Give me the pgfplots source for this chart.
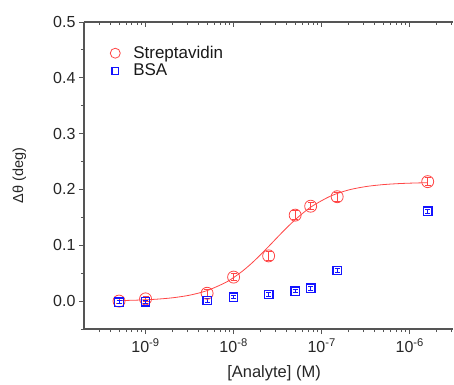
\documentclass[border=0pt]{standalone}
\usepackage{fontspec}
\setmainfont{Liberation Sans}
\usepackage{pgfplots}
\pgfplotsset{compat=1.18}
\definecolor{sred}{RGB}{255,70,70}
\definecolor{sblue}{RGB}{20,20,255}
\definecolor{axgray}{RGB}{85,85,85}
\pgfplotstableread{
x y ey
5e-10 0.000 0.004
1e-9 0.004 0.005
5e-9 0.014 0.006
1e-8 0.043 0.006
2.5e-8 0.081 0.008
5e-8 0.154 0.008
7.5e-8 0.170 0.006
1.5e-7 0.187 0.008
1.6e-6 0.214 0.007
}\strept
\pgfplotstableread{
x y ey
5e-10 -0.002 0.003
1e-9 -0.001 0.003
5e-9 0.001 0.003
1e-8 0.007 0.003
2.5e-8 0.012 0.003
5e-8 0.018 0.003
7.5e-8 0.023 0.003
1.5e-7 0.055 0.003
1.6e-6 0.161 0.003
}\bsa
\newcommand{\legfont}{\fontsize{17}{19}\selectfont}
\begin{document}
\begin{tikzpicture}
\useasboundingbox (0pt,0pt) rectangle (454pt,384pt);
\begin{axis}[
  at={(84pt,55pt)}, anchor=south west,
  scale only axis, width=369pt, height=307pt,
  xmode=log, xmin=2e-10, xmax=3.1e-6,
  ymin=-0.05, ymax=0.5,
  xtick={1e-9,1e-8,1e-7,1e-6},
  minor xtick={3e-10,4e-10,5e-10,6e-10,7e-10,8e-10,9e-10,
    2e-9,3e-9,4e-9,5e-9,6e-9,7e-9,8e-9,9e-9,
    2e-8,3e-8,4e-8,5e-8,6e-8,7e-8,8e-8,9e-8,
    2e-7,3e-7,4e-7,5e-7,6e-7,7e-7,8e-7,9e-7,
    2e-6,3e-6},
  axis line style={axgray, line width=1.1pt, -},
  major tick length=5pt, minor tick length=3pt,
  tick style={axgray, line width=0.9pt},
  axis x line*=bottom, axis y line*=left,
  tick align=outside,
  xticklabels={10\textsuperscript{-9},10\textsuperscript{-8},10\textsuperscript{-7},10\textsuperscript{-6}},
  ytick={0,0.1,0.2,0.3,0.4,0.5},
  minor ytick={-0.05,0.05,0.15,0.25,0.35,0.45},
  yticklabel style={/pgf/number format/.cd, fixed, fixed zerofill, precision=1, assume math mode=true},
  ticklabel style={font=\fontsize{16}{19}\selectfont, black!85},
  xticklabel style={yshift=-1pt},
  xlabel={[Analyte] (M)},
  ylabel={Δθ (deg)},
  label style={font=\fontsize{16.5}{19}\selectfont, black!85},
  ylabel style={font=\fontsize{14.5}{17}\selectfont},
  xlabel style={at={(axis description cs:0.515,-0.143)}, anchor=center},
  ylabel style={at={(axis description cs:-0.175,0.50)}, anchor=center},
  legend style={draw=none, fill=none, at={(axis description cs:0.068,0.928)}, anchor=north west,
    row sep=0pt, inner sep=0pt, text=black!90, font=\legfont},
  legend image code/.code={\path[draw=none,fill=none] (0pt,-5pt) rectangle (22pt,5pt); \draw[#1] plot coordinates {(6pt,0pt)};},
  legend cell align=left,
]
\addplot[sred, line width=0.8pt, smooth, forget plot] coordinates {
(5.012e-10,0.00092) (7.943e-10,0.00171) (1.259e-9,0.00316) (1.995e-9,0.00581)
(3.162e-9,0.01057) (5.012e-9,0.01887) (7.943e-9,0.03263) (1e-8,0.04218)
(1.259e-8,0.05367) (1.585e-8,0.06706) (1.995e-8,0.08211) (2.512e-8,0.09825)
(3.162e-8,0.11476) (3.981e-8,0.13090) (5.012e-8,0.14592) (6.310e-8,0.15932)
(7.943e-8,0.17082) (1.259e-7,0.18806) (1.995e-7,0.19884) (3.162e-7,0.20515)
(5.012e-7,0.20871) (7.943e-7,0.21068) (1.259e-6,0.21175) (1.585e-6,0.21208)
};
\addplot[only marks, mark=o, mark size=6pt, sred, mark options={line width=0.8pt, fill=none},
  legend image post style={mark size=5pt},
  error bars/.cd, y dir=both, y explicit,
  error bar style={sred, line width=0.9pt},
  error mark options={rotate=90, mark size=3pt, sred, line width=0.9pt}]
  table[x=x, y=y, y error=ey] {\strept};
\addlegendentry{\legfont Streptavidin}
\addplot[only marks, mark=square, mark size=4.2pt, sblue, mark options={line width=1.3pt, fill=none},
  legend image post style={mark size=3.4pt},
  error bars/.cd, y dir=both, y explicit,
  error bar style={sblue, line width=0.8pt},
  error mark options={rotate=90, mark size=2.5pt, sblue, line width=0.8pt}]
  table[x=x, y=y, y error=ey] {\bsa};
\addlegendentry{\legfont BSA}
\end{axis}
\begin{axis}[
  at={(84pt,55pt)}, anchor=south west,
  scale only axis, width=369pt, height=307pt,
  xmode=log, xmin=2e-10, xmax=3.1e-6,
  ymin=-0.05, ymax=0.5,
  xtick={1e-9,1e-8,1e-7,1e-6},
  minor xtick={3e-10,4e-10,5e-10,6e-10,7e-10,8e-10,9e-10,
    2e-9,3e-9,4e-9,5e-9,6e-9,7e-9,8e-9,9e-9,
    2e-8,3e-8,4e-8,5e-8,6e-8,7e-8,8e-8,9e-8,
    2e-7,3e-7,4e-7,5e-7,6e-7,7e-7,8e-7,9e-7,
    2e-6,3e-6},
  axis line style={axgray, line width=1.1pt, -},
  major tick length=5pt, minor tick length=3pt,
  tick style={axgray, line width=0.9pt},
  axis x line*=top, axis y line=none,
  tick align=inside,
  xticklabels={},
]
\addplot[draw=none, forget plot] coordinates {(1e-9,0)};
\end{axis}
\end{tikzpicture}
\end{document}
